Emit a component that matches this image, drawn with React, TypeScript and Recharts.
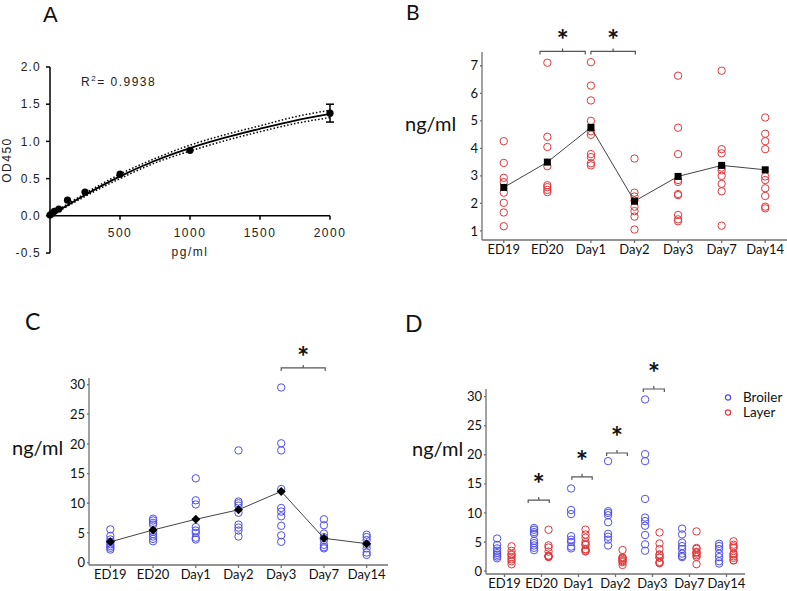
import React from "react";
import {
  ComposedChart,
  ScatterChart,
  Scatter,
  Line,
  XAxis,
  YAxis,
  ReferenceLine,
  ErrorBar,
  Legend,
} from "recharts";

const categories = ["ED19", "ED20", "Day1", "Day2", "Day3", "Day7", "Day14"];

// A - standard curve (pg/ml vs OD450)
const stdConc = [0, 15.6, 31.25, 62.5, 125, 250, 500, 1000, 2000];
const stdOD = [0.01, 0.035, 0.06, 0.09, 0.21, 0.32, 0.56, 0.88, 1.38];
const stdSD = [0, 0, 0, 0, 0, 0, 0, 0, 0.12];
const fitConc = [0, 250, 500, 750, 1000, 1250, 1500, 1750, 2000];
const fitOD = [0, 0.28, 0.53, 0.74, 0.91, 1.05, 1.17, 1.28, 1.37];
const fitHi = [0.01, 0.3, 0.56, 0.77, 0.95, 1.09, 1.21, 1.33, 1.42];
const fitLo = [-0.01, 0.26, 0.5, 0.71, 0.87, 1.01, 1.13, 1.24, 1.32];
const aTicksX = [500, 1000, 1500, 2000];
const aTicksY = [-0.5, 0, 0.5, 1, 1.5, 2];

// B - layer, one list per day
const layerPoints = [
  [4.26, 3.47, 2.93, 2.77, 2.39, 2.02, 1.67, 1.17],
  [7.11, 4.42, 4.05, 3.35, 2.66, 2.59, 2.49, 2.41],
  [7.13, 6.28, 5.74, 5.0, 4.62, 4.49, 3.79, 3.68, 3.46, 3.38],
  [3.63, 2.39, 2.25, 2.1, 1.88, 1.72, 1.52, 1.05],
  [6.64, 4.75, 3.79, 2.85, 2.78, 2.34, 2.3, 1.58, 1.42, 1.35],
  [6.82, 3.97, 3.82, 3.3, 3.2, 3.0, 2.71, 2.44, 1.19],
  [5.12, 4.53, 4.26, 3.97, 2.98, 2.85, 2.55, 2.27, 1.88, 1.82],
];
const layerMeans = [2.58, 3.5, 4.76, 2.08, 2.98, 3.38, 3.22];

// C - broiler, one list per day
const broilerPoints = [
  [5.6, 4.5, 3.9, 3.5, 3.1, 2.8, 2.5, 2.2],
  [7.4, 7.1, 6.7, 6.4, 5.2, 4.8, 4.4, 4.0, 3.6],
  [14.2, 10.5, 9.8, 6.0, 5.4, 5.0, 4.2, 3.9],
  [18.9, 10.3, 10.0, 9.6, 8.4, 6.4, 5.9, 5.4, 4.4],
  [29.5, 20.1, 18.9, 12.4, 9.2, 8.6, 7.8, 6.2, 4.6, 3.5],
  [7.3, 6.3, 4.9, 4.3, 3.8, 3.0, 2.6, 2.4],
  [4.7, 4.3, 3.8, 3.0, 2.4, 1.7, 1.3],
];
const broilerMeans = [3.5, 5.5, 7.3, 8.9, 12.0, 4.1, 3.2];

// significance brackets (category units / value units)
const layerBrackets = [
  { from: 0.83, to: 1.87, y: 7.52 },
  { from: 2.0, to: 3.02, y: 7.52 },
];
const broilerBrackets = [{ from: 4.0, to: 5.03, y: 32.8 }];
const compareBrackets = [
  { from: 0.64, to: 1.21, y: 12.2 },
  { from: 1.82, to: 2.37, y: 16.2 },
  { from: 2.76, to: 3.32, y: 20.3 },
  { from: 3.75, to: 4.32, y: 31.3 },
];

const RED = "#e2383c";
const BLUE = "#4f4ff0";
const AXIS = "#707070";
const CAT_FONT = "Lato, 'Open Sans', sans-serif";
const A_FONT = "'Liberation Sans', Arial, sans-serif";

const stdData = stdConc.map((x, i) => ({ x, y: stdOD[i], err: stdSD[i] }));
const errData = stdData.filter((d) => d.err > 0);
const fitData = fitConc.map((x, i) => ({ x, y: fitOD[i] }));
const hiData = fitConc.map((x, i) => ({ x, y: fitHi[i] }));
const loData = fitConc.map((x, i) => ({ x, y: fitLo[i] }));

const toPoints = (groups: number[][], shift = 0) =>
  groups.flatMap((vals, i) => vals.map((y) => ({ x: i + shift, y })));
const toMeans = (means: number[]) => means.map((y, i) => ({ x: i, y }));

// panel A geometry: x axis sits at OD = 0, so ticks are lifted from the plot bottom
const A_DOMAIN: [number, number] = [-0.5, 2];
const A_PLOT_H = 300 - 67 - 47;
const zeroShift = (A_PLOT_H * (0 - A_DOMAIN[0])) / (A_DOMAIN[1] - A_DOMAIN[0]);

const ZeroAxisTick = (p: any) => {
  const y0 = p.y - zeroShift;
  return (
    <g>
      <line x1={p.x} x2={p.x} y1={y0} y2={y0 + 4} stroke="#000" strokeWidth={1.5} />
      <text
        x={p.x}
        y={y0 + 17}
        textAnchor="middle"
        dominantBaseline="central"
        fontFamily={A_FONT}
        fontSize={12}
        letterSpacing={1.5}
        fill="#222"
      >
        {p.payload.value}
      </text>
    </g>
  );
};

const openCircle = (color: string) => (p: any) =>
  <circle cx={p.cx} cy={p.cy} r={3.7} fill="none" stroke={color} strokeWidth={1} />;
const filledDot = (p: any) => <circle cx={p.cx} cy={p.cy} r={3.6} fill="#000" />;
const square = (p: any) => <rect x={p.cx - 3.5} y={p.cy - 3.5} width={7} height={7} fill="#000" />;
const diamond = (p: any) => (
  <path
    d={`M${p.cx},${p.cy - 4.5}L${p.cx + 4.5},${p.cy}L${p.cx},${p.cy + 4.5}L${p.cx - 4.5},${p.cy}Z`}
    fill="#000"
  />
);
const noShape = () => <g />;

const bracketShape = (p: any) => {
  const { x1, x2, y1 } = p;
  const mid = (x1 + x2) / 2;
  return (
    <path
      d={`M${x1},${y1 + 3}V${y1}H${x2}V${y1 + 3}M${mid},${y1}V${y1 - 3}`}
      fill="none"
      stroke="#555"
      strokeWidth={1.2}
    />
  );
};

const brackets = (list: { from: number; to: number; y: number }[], lift: number) =>
  list.map((b, i) => (
    <ReferenceLine
      key={`br${i}`}
      segment={[
        { x: b.from, y: b.y },
        { x: b.to, y: b.y },
      ]}
      ifOverflow="visible"
      shape={bracketShape}
      label={{
        value: "*",
        position: "top",
        offset: lift,
        fontSize: 29,
        fontWeight: 700,
        fontFamily: CAT_FONT,
        fill: "#111",
      }}
    />
  ));

const sideLabel = (text: string, dx: number, dy: number) => (props: any) => {
  const vb = props.viewBox;
  return (
    <text
      x={vb.x + dx}
      y={vb.y + vb.height / 2 + dy}
      dominantBaseline="central"
      fontFamily={CAT_FONT}
      fontSize={20}
      fill="#111"
    >
      {text}
    </text>
  );
};

const rotatedLabel = (text: string, dx: number) => (props: any) => {
  const vb = props.viewBox;
  const cx = vb.x + dx;
  const cy = vb.y + vb.height / 2;
  return (
    <text
      x={cx}
      y={cy}
      transform={`rotate(-90 ${cx} ${cy})`}
      textAnchor="middle"
      dominantBaseline="central"
      fontFamily={A_FONT}
      fontSize={12}
      letterSpacing={1.5}
      fill="#222"
    >
      {text}
    </text>
  );
};

const bottomLabel = (text: string, dy: number) => (props: any) => {
  const vb = props.viewBox;
  return (
    <text
      x={vb.x + vb.width / 2}
      y={vb.y + dy}
      textAnchor="middle"
      dominantBaseline="central"
      fontFamily={A_FONT}
      fontSize={12}
      letterSpacing={1.5}
      fill="#222"
    >
      {text}
    </text>
  );
};

const catTick = { fill: "#111", fontSize: 13, fontFamily: CAT_FONT };

const catXAxis = (height: number) => (
  <XAxis
    type="number"
    dataKey="x"
    domain={[-0.5, 6.5]}
    ticks={[0, 1, 2, 3, 4, 5, 6]}
    tickFormatter={(v: number) => categories[v]}
    interval={0}
    height={height}
    tick={catTick}
    tickSize={3}
    tickMargin={2}
    stroke={AXIS}
    strokeWidth={1.3}
  />
);

const valueYAxis = (
  width: number,
  domain: [number, number],
  ticks: number[],
  label: { dx: number; dy: number }
) => (
  <YAxis
    type="number"
    dataKey="y"
    domain={domain}
    ticks={ticks}
    interval={0}
    width={width}
    tick={catTick}
    tickSize={2}
    tickMargin={2}
    stroke={AXIS}
    strokeWidth={1.3}
    label={{ value: "ng/ml", content: sideLabel("ng/ml", label.dx, label.dy) }}
  />
);

const legendContent = (props: any) => (
  <div>
    {(props.payload || []).map((e: any) => (
      <div
        key={e.value}
        style={{
          display: "flex",
          alignItems: "center",
          height: 15,
          lineHeight: "15px",
          fontFamily: CAT_FONT,
          fontSize: 13.5,
          color: "#111",
        }}
      >
        <svg width={20} height={15}>
          <circle cx={5} cy={7.5} r={2.6} fill="none" stroke={e.color} strokeWidth={1.2} />
        </svg>
        <span>{e.value}</span>
      </div>
    ))}
  </div>
);

export default function App() {
  return (
    <div style={{ position: "absolute", left: 0, top: 0, width: 787, height: 591, background: "#fff" }}>
      {/* A */}
      <div style={{ position: "absolute", left: 0, top: 0 }}>
        <ComposedChart width={393} height={300} margin={{ top: 67, right: 63, bottom: 17, left: 0 }}>
          <XAxis
            type="number"
            dataKey="x"
            domain={[0, 2000]}
            ticks={aTicksX}
            interval={0}
            height={30}
            axisLine={false}
            tickLine={false}
            tickSize={0}
            tickMargin={0}
            tick={ZeroAxisTick}
            label={{ value: "pg/ml", content: bottomLabel("pg/ml", -1) }}
          />
          <YAxis
            type="number"
            dataKey="y"
            domain={A_DOMAIN}
            ticks={aTicksY}
            interval={0}
            width={50}
            tickFormatter={(v: number) => v.toFixed(1)}
            tick={{ fill: "#222", fontSize: 12, fontFamily: A_FONT, letterSpacing: 1.2 }}
            tickSize={4}
            tickMargin={5}
            stroke="#000"
            strokeWidth={1.5}
            label={{ value: "OD450", content: rotatedLabel("OD450", 7) }}
          />
          <ReferenceLine y={0} stroke="#000" strokeWidth={1.5} />
          <Line
            data={hiData}
            dataKey="y"
            type="monotone"
            stroke="#000"
            strokeWidth={1.5}
            strokeDasharray="1.5 2"
            dot={false}
            isAnimationActive={false}
          />
          <Line
            data={loData}
            dataKey="y"
            type="monotone"
            stroke="#000"
            strokeWidth={1.5}
            strokeDasharray="1.5 2"
            dot={false}
            isAnimationActive={false}
          />
          <Line
            data={fitData}
            dataKey="y"
            type="monotone"
            stroke="#000"
            strokeWidth={1.8}
            dot={false}
            isAnimationActive={false}
          />
          <Scatter data={errData} shape={noShape} isAnimationActive={false}>
            <ErrorBar dataKey="err" direction="y" width={4} stroke="#000" strokeWidth={1.5} />
          </Scatter>
          <Scatter data={stdData} shape={filledDot} isAnimationActive={false} />
        </ComposedChart>
      </div>

      {/* B */}
      <div style={{ position: "absolute", left: 393, top: 0 }}>
        <ScatterChart width={394} height={300} margin={{ top: 52, right: 0, bottom: 30, left: 0 }}>
          {catXAxis(30)}
          {valueYAxis(89, [0.67, 7.5], [1, 2, 3, 4, 5, 6, 7], { dx: 12, dy: -23 })}
          <Scatter data={toPoints(layerPoints)} shape={openCircle(RED)} isAnimationActive={false} />
          <Scatter
            data={toMeans(layerMeans)}
            shape={square}
            line={{ stroke: "#444", strokeWidth: 1 }}
            lineType="joint"
            isAnimationActive={false}
          />
          {brackets(layerBrackets, 1)}
        </ScatterChart>
      </div>

      {/* C */}
      <div style={{ position: "absolute", left: 0, top: 300 }}>
        <ScatterChart width={393} height={291} margin={{ top: 78, right: 5, bottom: 2, left: 0 }}>
          {catXAxis(24)}
          {valueYAxis(89, [-0.4, 31.1], [0, 5, 10, 15, 20, 25, 30], { dx: 12, dy: -25 })}
          <Scatter data={toPoints(broilerPoints)} shape={openCircle(BLUE)} isAnimationActive={false} />
          <Scatter
            data={toMeans(broilerMeans)}
            shape={diamond}
            line={{ stroke: "#444", strokeWidth: 1 }}
            lineType="joint"
            isAnimationActive={false}
          />
          {brackets(broilerBrackets, 1)}
        </ScatterChart>
      </div>

      {/* D */}
      <div style={{ position: "absolute", left: 393, top: 300 }}>
        <ScatterChart width={394} height={291} margin={{ top: 89, right: 42, bottom: 0, left: 0 }}>
          {catXAxis(17)}
          {valueYAxis(93, [-0.5, 31.3], [0, 5, 10, 15, 20, 25, 30], { dx: 19, dy: -34 })}
          <Scatter
            name="Broiler"
            data={toPoints(broilerPoints, -0.2)}
            fill={BLUE}
            shape={openCircle(BLUE)}
            isAnimationActive={false}
          />
          <Scatter
            name="Layer"
            data={toPoints(layerPoints, 0.19)}
            fill={RED}
            shape={openCircle(RED)}
            isAnimationActive={false}
          />
          {brackets(compareBrackets, 6)}
          <Legend
            layout="vertical"
            align="center"
            verticalAlign="middle"
            wrapperStyle={{ top: 90, left: 330, width: 80 }}
            content={legendContent}
          />
        </ScatterChart>
      </div>

      {/* panel letters and the fit statistic */}
      <svg
        width={787}
        height={591}
        style={{ position: "absolute", left: 0, top: 0, pointerEvents: "none" }}
      >
        <text x={43} y={22} fontFamily={A_FONT} fontSize={22} fill="#111">A</text>
        <text x={406} y={20} fontFamily={CAT_FONT} fontSize={21} fill="#111">B</text>
        <text x={25} y={330} fontFamily={CAT_FONT} fontSize={23} fill="#111">C</text>
        <text x={405} y={332} fontFamily={CAT_FONT} fontSize={23} fill="#111">D</text>
        <text x={81} y={86} fontFamily={A_FONT} fontSize={12} letterSpacing={1.5} fill="#222">
          <tspan>R</tspan>
          <tspan dy={-5} fontSize={8}>2</tspan>
          <tspan dy={5}>= 0.9938</tspan>
        </text>
      </svg>
    </div>
  );
}
